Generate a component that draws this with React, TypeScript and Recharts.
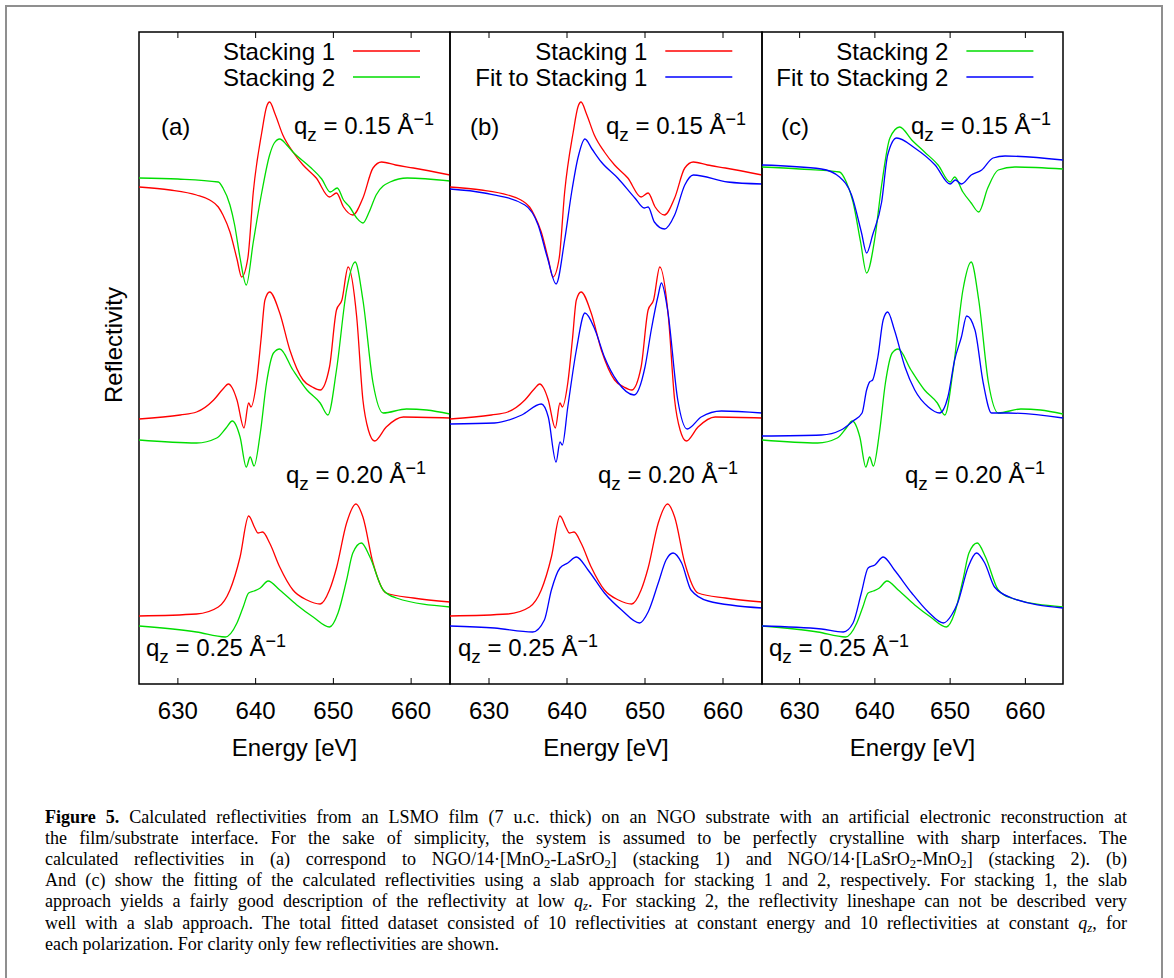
import React from 'react';
import { Line, LineChart, ReferenceArea, ReferenceLine, XAxis, YAxis } from 'recharts';

// energy axis
const ENERGY_DOMAIN: [number, number] = [625, 665];
const ENERGY_TICKS = [630, 640, 650, 660];
// vertical axis is arbitrary (traces are offset), 0..652 a.u.
const R_DOMAIN: [number, number] = [0, 652];

const RED = '#ff0000';
const GREEN = '#00dd00';
const BLUE = '#0000ff';
const FONT = '"Liberation Sans", Arial, Helvetica, sans-serif';

// [energy eV, reflectivity incl. offset]
const STACK1_Q15: [number, number][] = [
  [625, 497], [629, 494], [632.4, 489], [634.1, 484], [635.2, 477], [635.8, 469], [636.7, 452], [637.6, 425],
  [638.2, 407], [639, 426], [639.7, 492], [640.8, 552], [641.4, 577], [641.8, 582], [642.5, 570], [643.5, 549],
  [644.8, 532], [646.1, 519], [647.8, 506], [649.5, 487], [650.4, 491], [651.3, 477], [652.5, 469], [653.8, 486],
  [655.1, 516], [656.2, 522], [658, 519], [660.3, 516], [665, 509],
];
const STACK1_Q20: [number, number][] = [
  [625, 265], [630.3, 269], [632.4, 272], [634.6, 284], [635.8, 295], [636.5, 300], [637, 296], [637.6, 284],
  [638.5, 256], [639.1, 281], [639.4, 277], [640.1, 301], [640.7, 345], [641.2, 384], [641.8, 392], [643.1, 371],
  [644.4, 334], [646.1, 304], [647.3, 297], [648.3, 294], [649.5, 317], [650.4, 374], [651.1, 384], [651.9, 417],
  [653, 367], [653.8, 284], [654.5, 254], [655.3, 243], [656.8, 257], [659, 267], [665, 266],
];
const STACK1_Q25: [number, number][] = [
  [625, 68], [632.4, 70], [635.2, 77], [636.7, 94], [638, 127], [639.1, 168], [639.9, 156], [640.3, 151],
  [640.9, 152], [641.8, 141], [643.1, 117], [644.8, 94], [646.6, 84], [648.3, 80], [649.5, 94], [650.4, 116],
  [651.7, 161], [652.9, 180], [653.8, 167], [655.1, 121], [656.8, 91], [660.3, 86], [665, 82],
];

const STACK2_Q15: [number, number][] = [
  [625, 506], [630, 505], [635.2, 502], [635.8, 496], [636.7, 479], [637.3, 459], [638, 426], [638.8, 399],
  [639.7, 442], [640.8, 492], [641.8, 529], [642.4, 541], [643.1, 545], [644, 539], [644.8, 532], [647, 517],
  [648.5, 505], [649.6, 492], [650.5, 496], [651.3, 484], [652.1, 477], [653, 466], [653.8, 461], [654.6, 472],
  [655.5, 489], [657.3, 502], [659.5, 506], [665, 503],
];
// same trace as plotted in panel (c), which uses a slightly larger offset
const STACK2_Q15_C: [number, number][] = [
  [625, 517], [630, 515], [635.3, 512], [636.2, 502], [637.1, 482], [638.1, 442], [638.9, 411], [640, 446],
  [640.9, 499], [642, 546], [643.3, 557], [644.9, 544], [646.6, 532], [648.4, 519], [650, 502], [650.6, 507],
  [651.7, 492], [652.8, 481], [653.8, 472], [655, 496], [656.4, 514], [658.6, 517], [665, 515],
];
const STACK2_Q20: [number, number][] = [
  [625, 244], [632.4, 241], [635, 246], [636.2, 256], [637, 263], [638, 247], [638.8, 217], [639.3, 227],
  [639.8, 218], [640.6, 251], [641.4, 301], [642.3, 331], [643.1, 335], [644.8, 314], [646.6, 294], [648.3, 281],
  [649.3, 269], [650.4, 314], [651.7, 394], [652.8, 422], [653.8, 384], [655.1, 301], [656.4, 271], [659.4, 275],
  [662, 274], [665, 270],
];
const STACK2_Q25: [number, number][] = [
  [625, 58], [632.4, 52], [636.1, 47], [637.6, 61], [638.4, 77], [639.1, 91], [639.8, 93], [640.6, 96],
  [641.6, 103], [643.1, 94], [645.3, 79], [647.4, 67], [649.5, 57], [650.6, 71], [651.7, 104], [652.5, 131],
  [653.6, 141], [654.7, 127], [656.4, 94], [658.1, 86], [665, 77],
];

const FIT1_Q15: [number, number][] = [
  [625, 495], [629.4, 491], [634.6, 479], [636.3, 459], [637.5, 426], [638.6, 400], [639.7, 444], [640.6, 492],
  [641.4, 526], [642.3, 545], [643.2, 535], [644.4, 522], [646.5, 506], [648.7, 486], [649.9, 476], [650.4, 477],
  [651.2, 462], [652.5, 455], [653.8, 469], [655.1, 499], [656.2, 509], [660.6, 502], [665, 500],
];
const FIT1_Q20: [number, number][] = [
  [625, 260], [630.7, 261], [634.2, 269], [636.7, 280], [637.6, 267], [638.6, 222], [639.1, 242], [639.4, 239],
  [640.1, 277], [641.2, 334], [642.3, 371], [643.6, 354], [644.8, 327], [646.5, 302], [648.6, 289], [650, 317],
  [650.8, 354], [651.7, 389], [652.1, 401], [652.9, 374], [654.2, 284], [655.4, 255], [657.2, 267], [659.8, 273],
  [665, 271],
];
const FIT1_Q25: [number, number][] = [
  [625, 58], [630.7, 56], [635.6, 52], [637.1, 64], [638, 94], [639.1, 116], [640.1, 121], [641.2, 127],
  [642.7, 114], [644.8, 91], [647, 74], [649.3, 61], [650.4, 72], [651.7, 101], [652.7, 124], [653.6, 131],
  [654.7, 121], [655.9, 94], [658.1, 83], [665, 76],
];

const FIT2_Q15: [number, number][] = [
  [625, 519], [632.9, 515], [635.3, 507], [636.9, 489], [638.2, 452], [638.9, 431], [639.7, 449], [640.9, 482],
  [641.7, 529], [642.9, 546], [645.3, 536], [648, 519], [650, 500], [650.7, 504], [651.5, 500], [652.8, 509],
  [654.2, 514], [655.7, 526], [657.3, 528], [665, 524],
];
const FIT2_Q20: [number, number][] = [
  [625, 248], [632.9, 249], [635.5, 254], [637.1, 263], [638.3, 271], [638.9, 294], [639.3, 302], [639.7, 304],
  [640.4, 327], [641.1, 364], [641.7, 372], [642.6, 354], [644, 317], [645.3, 294], [647.1, 277], [648.6, 271],
  [649.7, 287], [650.6, 324], [651.5, 347], [652.2, 368], [653.3, 354], [654.4, 301], [655.5, 271], [657.7, 271],
  [665, 266],
];
const FIT2_Q25: [number, number][] = [
  [625, 58], [632.9, 55], [635.8, 52], [637.1, 61], [638.2, 91], [639.1, 116], [640, 119], [641.1, 127],
  [642.6, 114], [644.9, 91], [647.1, 72], [649.1, 61], [650.2, 69], [651, 81], [652.4, 117], [653.5, 131],
  [654.6, 121], [655.9, 97], [658.2, 86], [665, 76],
];

interface Series {
  name: string;
  color: string;
  curves: [number, number][][];
}

interface Panel {
  letter: string;
  left: number;
  width: number;
  series: Series[];
  letterX: number;
  qzX: [number, number, number];
}

const PANELS: Panel[] = [
  {
    letter: '(a)', left: 139, width: 311, letterX: 161, qzX: [294, 286, 146],
    series: [
      { name: 'Stacking 1', color: RED, curves: [STACK1_Q15, STACK1_Q20, STACK1_Q25] },
      { name: 'Stacking 2', color: GREEN, curves: [STACK2_Q15, STACK2_Q20, STACK2_Q25] },
    ],
  },
  {
    letter: '(b)', left: 450.3, width: 312, letterX: 470, qzX: [606, 598, 458],
    series: [
      { name: 'Stacking 1', color: RED, curves: [STACK1_Q15, STACK1_Q20, STACK1_Q25] },
      { name: 'Fit to Stacking 1', color: BLUE, curves: [FIT1_Q15, FIT1_Q20, FIT1_Q25] },
    ],
  },
  {
    letter: '(c)', left: 762.4, width: 301, letterX: 781, qzX: [911, 905, 769],
    series: [
      { name: 'Stacking 2', color: GREEN, curves: [STACK2_Q15_C, STACK2_Q20, STACK2_Q25] },
      { name: 'Fit to Stacking 2', color: BLUE, curves: [FIT2_Q15, FIT2_Q20, FIT2_Q25] },
    ],
  },
];

const QZ_VALUES = ['0.15', '0.20', '0.25'];
const QZ_BASELINES = [134, 483, 656];

const PLOT_TOP = 32;
const PLOT_H = 652;
const XAXIS_H = 80;
const PAD = 2;
const TICK_LEN = 6;

function PanelChart({ panel }: { panel: Panel }) {
  return (
    <div style={{ position: 'absolute', left: panel.left - PAD, top: PLOT_TOP - PAD }}>
      <LineChart
        width={panel.width + PAD * 2}
        height={PLOT_H + PAD + XAXIS_H}
        margin={{ top: PAD, right: PAD, left: PAD, bottom: 0 }}
      >
        <XAxis
          dataKey="e"
          type="number"
          domain={ENERGY_DOMAIN}
          ticks={ENERGY_TICKS}
          interval={0}
          allowDataOverflow
          height={XAXIS_H}
          axisLine={false}
          tickLine={false}
          tickSize={6}
          tickMargin={12}
          tick={{ fontSize: 24, fill: '#000', fontFamily: FONT }}
          label={{ value: 'Energy [eV]', position: 'insideBottom', offset: 8, fontSize: 24, fill: '#000', fontFamily: FONT }}
        />
        <YAxis type="number" domain={R_DOMAIN} allowDataOverflow hide />
        <ReferenceArea
          x1={ENERGY_DOMAIN[0]}
          x2={ENERGY_DOMAIN[1]}
          y1={R_DOMAIN[0]}
          y2={R_DOMAIN[1]}
          fill="none"
          fillOpacity={0}
          stroke="#000"
          strokeWidth={1.5}
        />
        {ENERGY_TICKS.map(t => (
          <ReferenceLine key={`b${t}`} segment={[{ x: t, y: R_DOMAIN[0] }, { x: t, y: R_DOMAIN[0] + TICK_LEN }]} stroke="#000" strokeWidth={1} />
        ))}
        {ENERGY_TICKS.map(t => (
          <ReferenceLine key={`t${t}`} segment={[{ x: t, y: R_DOMAIN[1] }, { x: t, y: R_DOMAIN[1] - TICK_LEN }]} stroke="#000" strokeWidth={1} />
        ))}
        {panel.series.map(s =>
          s.curves.map((c, i) => (
            <Line
              key={`${s.name}-${i}`}
              data={c.map(([e, r]) => ({ e, r }))}
              dataKey="r"
              name={s.name}
              type="monotone"
              stroke={s.color}
              strokeWidth={1.3}
              dot={false}
              activeDot={false}
              isAnimationActive={false}
            />
          )),
        )}
      </LineChart>
    </div>
  );
}

function QzLabel({ x, y, value }: { x: number; y: number; value: string }) {
  return (
    <text x={x} y={y} fontSize={24} fontFamily={FONT} fill="#000" style={{ whiteSpace: 'pre' }}>
      q
      <tspan fontSize={19} dy={7}>z</tspan>
      <tspan dy={-7}>{` = ${value} Å`}</tspan>
      <tspan fontSize={18} dy={-9}>−1</tspan>
    </text>
  );
}

function Annotations() {
  return (
    <svg width={1174} height={978} style={{ position: 'absolute', left: 0, top: 0, pointerEvents: 'none' }}>
      <text
        x={122}
        y={345}
        fontSize={24}
        fontFamily={FONT}
        textAnchor="middle"
        transform="rotate(-90 122 345)"
        fill="#000"
      >
        Reflectivity
      </text>
      {PANELS.map(p => {
        const right = p.left + p.width;
        return (
          <g key={p.letter}>
            <text x={p.letterX} y={135} fontSize={24} fontFamily={FONT} fill="#000">{p.letter}</text>
            {QZ_VALUES.map((v, i) => (
              <QzLabel key={v} x={p.qzX[i]} y={QZ_BASELINES[i]} value={v} />
            ))}
            {p.series.map((s, i) => (
              <g key={s.name}>
                <text x={right - 115} y={59.5 + i * 26} fontSize={24} fontFamily={FONT} textAnchor="end" fill="#000">
                  {s.name}
                </text>
                <line x1={right - 97} x2={right - 30} y1={51 + i * 26} y2={51 + i * 26} stroke={s.color} strokeWidth={1.3} />
              </g>
            ))}
          </g>
        );
      })}
    </svg>
  );
}

const CAPTION_FONT = '"Liberation Serif", "Times New Roman", serif';
const CAPTION_SCALE = 0.95;
const CAPTION_WIDTH = 1082;
const subStyle: React.CSSProperties = { fontSize: '0.7em', lineHeight: 0, verticalAlign: '-0.25em' };
const qz = <><i>q</i><span style={{ ...subStyle, fontStyle: 'italic' }}>z</span></>;
const sub2 = <span style={subStyle}>2</span>;

const CAPTION_LINES: React.ReactNode[] = [
  <><b>Figure 5.</b> Calculated reflectivities from an LSMO film (7 u.c. thick) on an NGO substrate with an artificial electronic reconstruction at</>,
  <>the film/substrate interface. For the sake of simplicity, the system is assumed to be perfectly crystalline with sharp interfaces. The</>,
  <>calculated reflectivities in (a) correspond to NGO/14·[MnO{sub2}-LaSrO{sub2}] (stacking 1) and NGO/14·[LaSrO{sub2}-MnO{sub2}] (stacking 2). (b)</>,
  <>And (c) show the fitting of the calculated reflectivities using a slab approach for stacking 1 and 2, respectively. For stacking 1, the slab</>,
  <>approach yields a fairly good description of the reflectivity at low {qz}. For stacking 2, the reflectivity lineshape can not be described very</>,
  <>well with a slab approach. The total fitted dataset consisted of 10 reflectivities at constant energy and 10 reflectivities at constant {qz}, for</>,
  <>each polarization. For clarity only few reflectivities are shown.</>,
];

export default function App() {
  return (
    <div
      style={{
        position: 'absolute',
        left: 0,
        top: 0,
        width: 1174,
        height: 978,
        overflow: 'hidden',
        background: '#fff',
      }}
    >
      <div
        style={{
          position: 'absolute',
          left: 5,
          top: 5,
          width: 1154,
          height: 1000,
          border: '2px solid #8f8f8f',
        }}
      />
      {PANELS.map(p => (
        <PanelChart key={p.letter} panel={p} />
      ))}
      <Annotations />
      {CAPTION_LINES.map((line, i) => (
        <div
          key={i}
          style={{
            position: 'absolute',
            left: 45,
            top: 806 + i * 21.1,
            width: CAPTION_WIDTH / CAPTION_SCALE,
            height: 21,
            transform: `scaleX(${CAPTION_SCALE})`,
            transformOrigin: '0 0',
            fontFamily: CAPTION_FONT,
            fontSize: 19,
            lineHeight: '21px',
            whiteSpace: 'nowrap',
            textAlign: 'justify',
            textAlignLast: i === CAPTION_LINES.length - 1 ? 'left' : 'justify',
            color: '#000',
          }}
        >
          {line}
        </div>
      ))}
    </div>
  );
}
